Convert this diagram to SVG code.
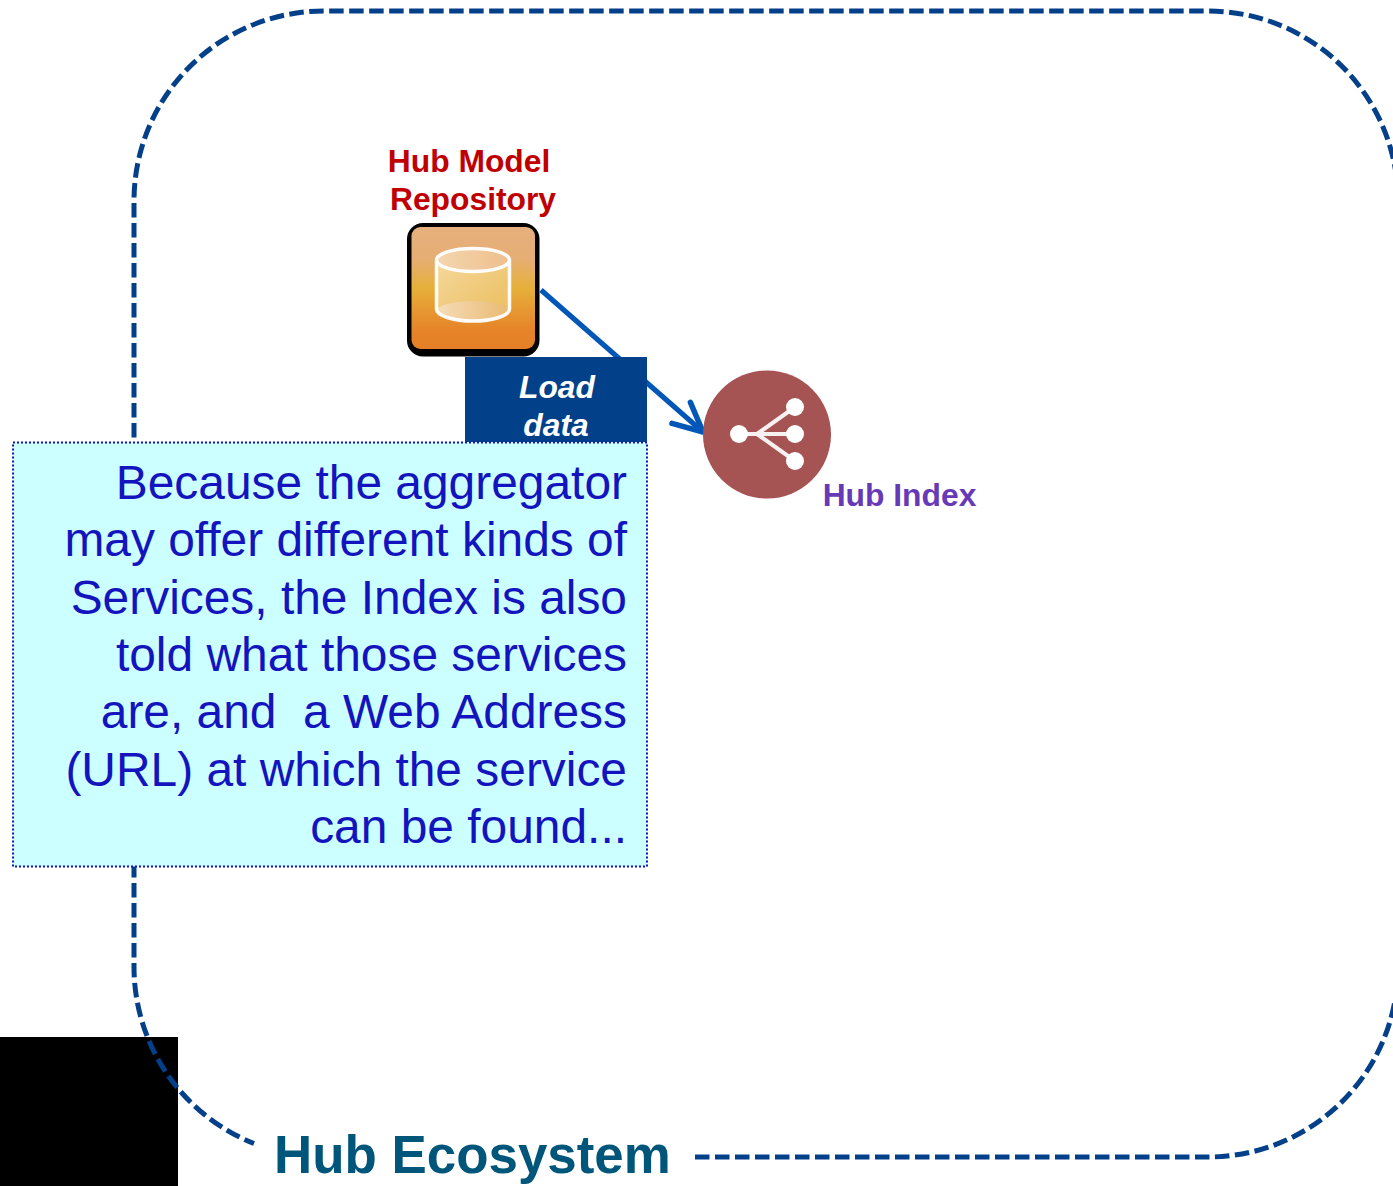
<svg xmlns="http://www.w3.org/2000/svg" width="1393" height="1186" viewBox="0 0 1393 1186">
<style>
text{font-family:"Liberation Sans",Arial,sans-serif}
.b{font-weight:700}
.note{font-size:47.9px;fill:#1414bf;text-anchor:end}
.lab{font-size:31.8px;font-weight:700;text-anchor:middle}
</style>
<defs>
<linearGradient id="og" x1="0" y1="0" x2="0" y2="1">
<stop offset="0" stop-color="#e6b07e"/><stop offset=".26" stop-color="#e6ae74"/><stop offset=".5" stop-color="#e6b03a"/><stop offset=".85" stop-color="#e68329"/><stop offset="1" stop-color="#e58026"/>
</linearGradient>
<linearGradient id="cyl" x1="0" y1="0" x2="1" y2="1">
<stop offset="0" stop-color="#f5d89c"/><stop offset="1" stop-color="#ebbd5c"/>
</linearGradient>
<linearGradient id="cyltop" x1="0" y1="0" x2="1" y2="0">
<stop offset="0" stop-color="#f5d6b0"/><stop offset="1" stop-color="#eebf8c"/>
</linearGradient>
<linearGradient id="cylbot" x1="0" y1="0" x2="1" y2="0">
<stop offset="0" stop-color="#f6dcb8"/><stop offset="1" stop-color="#e9ba72"/>
</linearGradient>
<marker id="arr" markerUnits="userSpaceOnUse" markerWidth="44" markerHeight="44" refX="32" refY="16" orient="auto" viewBox="0 0 44 32">
<path d="M3 2 32 16 3 30" fill="none" stroke="#0057b8" stroke-width="5.500" stroke-linecap="round" stroke-linejoin="miter"/>
</marker>
</defs>
<rect width="1393" height="1186" fill="#fff"/>
<rect id="black-block" x="0" y="1037" width="178" height="149" fill="#000"/>
<g id="connectors">
<path id="ecosystem-border" d="M695 1157H1208A190 190 0 0 0 1398 967V201A190 190 0 0 0 1208 11H324A190 190 0 0 0 134 201V967A190 190 0 0 0 254 1143.500" fill="none" stroke="#034089" stroke-width="5" stroke-dasharray="14.500 5.500"/>
<path id="load-link" d="M541 290 703 432" fill="none" stroke="#0057b8" stroke-width="5" marker-end="url(#arr)"/>
</g>
<g id="hub-model-repository">
<rect x="407" y="223" width="132.500" height="133.500" rx="16" fill="#000"/>
<rect x="411.500" y="227" width="123.500" height="122" rx="9" fill="url(#og)"/>
<path d="M436.500 260V309A36.500 12 0 0 0 509.500 309V260Z" fill="url(#cyl)"/>
<ellipse cx="473" cy="260" rx="36.500" ry="11" fill="url(#cyltop)"/>
<ellipse cx="473" cy="311" rx="36.500" ry="10" fill="url(#cylbot)"/>
<path d="M436.500 260V309A36.500 12 0 0 0 509.500 309V260A36.500 11.500 0 0 0 436.500 260A36.500 11.500 0 0 0 509.500 260" fill="none" stroke="#fff" stroke-opacity=".95" stroke-width="3.500"/>
<text class="lab" fill="#c00000" x="469" y="172">Hub Model</text>
<text class="lab" fill="#c00000" x="473" y="210">Repository</text>
</g>
<g id="load-data">
<rect x="465" y="357" width="182" height="85" fill="#03408a"/>
<text class="lab" fill="#fff" font-style="italic" x="557" y="398">Load</text>
<text class="lab" fill="#fff" font-style="italic" x="556" y="436">data</text>
</g>
<g id="hub-index">
<circle cx="767" cy="434.500" r="64" fill="#a55353"/>
<path d="M739 434H795M757 434 795 407M757 434 795 461" fill="none" stroke="#fff" stroke-width="4" stroke-opacity=".92"/>
<circle cx="739" cy="434" r="9" fill="#fff"/>
<circle cx="795" cy="407" r="9" fill="#fff"/>
<circle cx="795" cy="434" r="9" fill="#fff"/>
<circle cx="795" cy="461" r="9" fill="#fff"/>
<text class="lab" fill="#6639b7" x="899.500" y="506">Hub Index</text>
</g>
<g id="note">
<rect x="13" y="442.500" width="634" height="424" fill="#ccffff" stroke="#1414bf" stroke-width="2" stroke-dasharray="2 2"/>
<text class="note" x="627" y="499">Because the aggregator</text>
<text class="note" x="627" y="556">may offer different kinds of</text>
<text class="note" x="627" y="614">Services, the Index is also</text>
<text class="note" x="627" y="671">told what those services</text>
<text class="note" x="627" y="728" xml:space="preserve">are, and  a Web Address</text>
<text class="note" x="627" y="786">(URL) at which the service</text>
<text class="note" x="627" y="843">can be found...</text>
</g>
<g id="hub-ecosystem-label">
<text class="b" x="274" y="1173" font-size="52.900" fill="#00567a">Hub Ecosystem</text>
</g>
</svg>
